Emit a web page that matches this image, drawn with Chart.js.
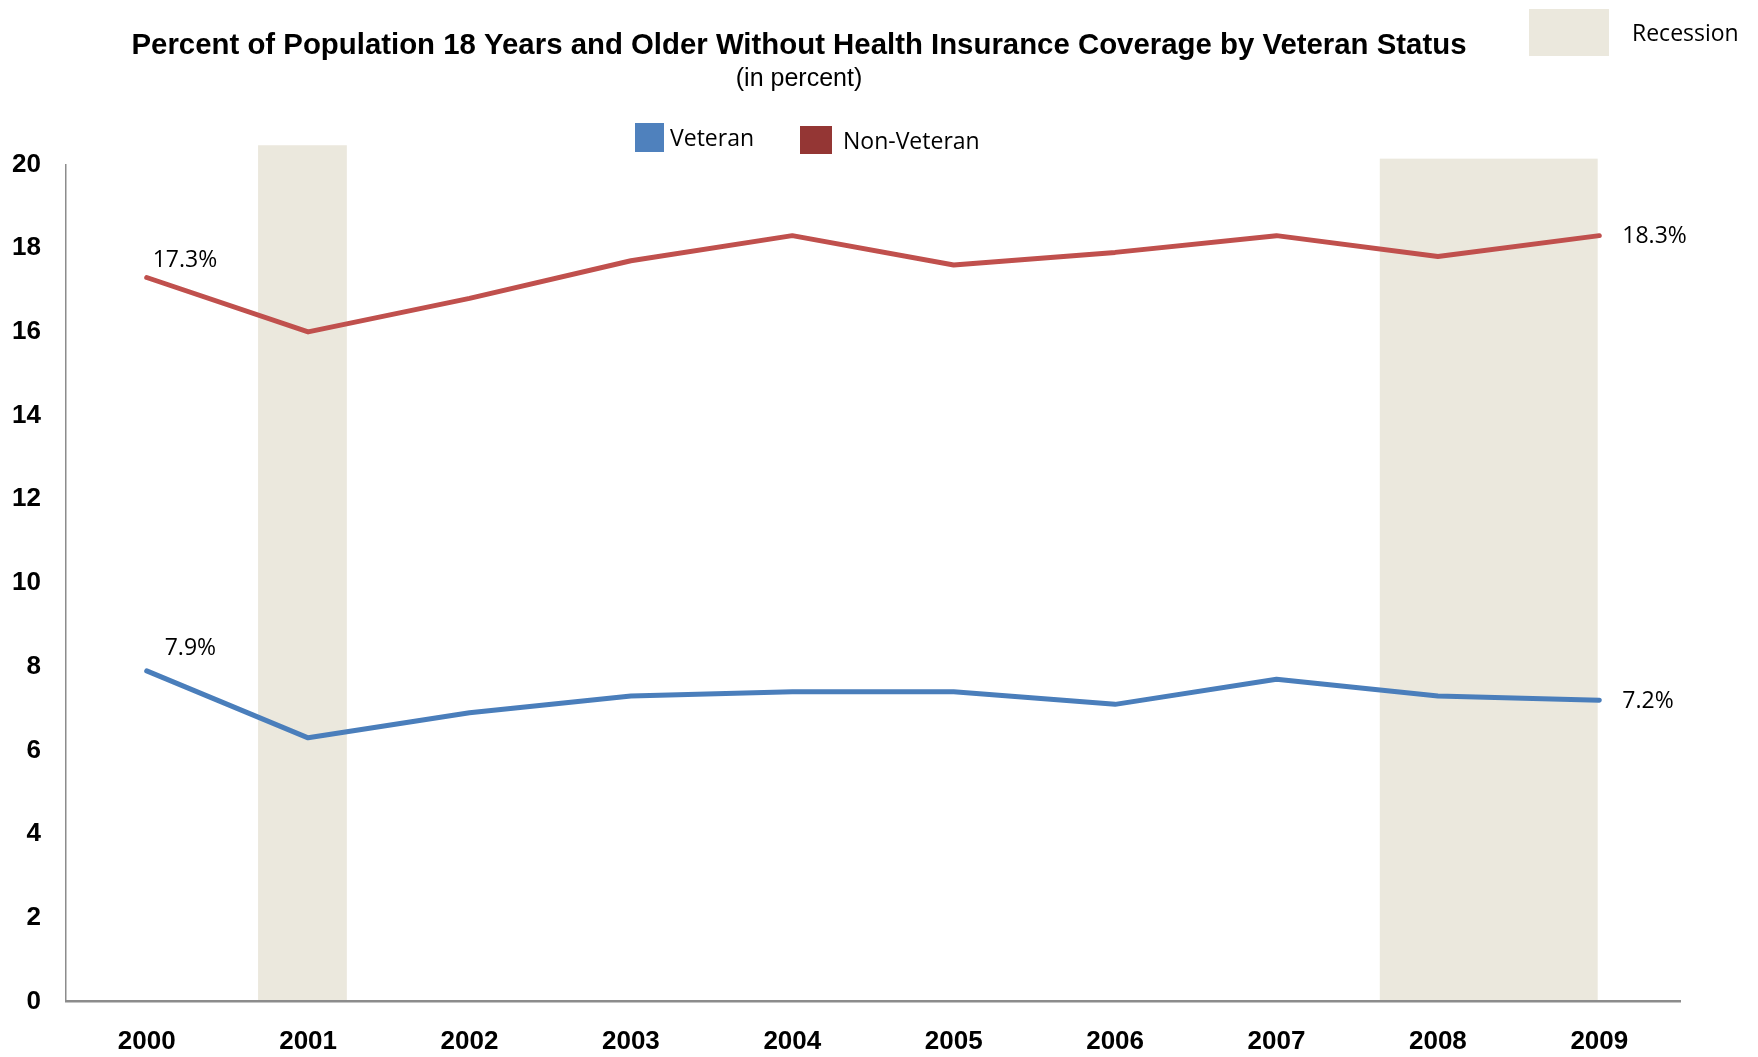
<!DOCTYPE html>
<html lang="en">
<head>
<meta charset="utf-8" />
<title>Health Insurance Coverage by Veteran Status</title>
<script src="https://cdn.jsdelivr.net/npm/chart.js@4.4.0/dist/chart.umd.min.js"></script>
<style>
	html, body { margin: 0; padding: 0; background: #fff; }
	#wrap { width: 1758px; height: 1057px; }
</style>
</head>
<body>
<div id="wrap"><canvas id="chart1" width="1758" height="1057"></canvas></div>
<script>
var years = ["2000", "2001", "2002", "2003", "2004", "2005", "2006", "2007", "2008", "2009"];
var veteran = [7.9, 6.3, 6.9, 7.3, 7.4, 7.4, 7.1, 7.7, 7.3, 7.2];
var nonVeteran = [17.3, 16.0, 16.8, 17.7, 18.3, 17.6, 17.9, 18.3, 17.8, 18.3];
var yTicks = [0, 2, 4, 6, 8, 10, 12, 14, 16, 18, 20];
// recession spans, as fractional positions on the year axis
var recessionFrom = [2000.69, 2007.64];
var recessionTo = [2001.24, 2008.99];
var recessionTop = [20.46, 20.14];

var titleText = "Percent of Population 18 Years and Older Without Health Insurance Coverage by Veteran Status";
var subtitleText = "(in percent)";
var seriesNames = ["Veteran", "Non-Veteran"];

var bandColor = "#ebe8dd";
var calibri = "'Open Sans', 'DejaVu Sans', sans-serif";
var arial = "'Liberation Sans', Arial, sans-serif";

var bandsPlugin = {
	id: "bands",
	beforeDraw: function(chart){
		var ctx = chart.ctx, x = chart.scales.x, y = chart.scales.y;
		ctx.save();
		ctx.fillStyle = "#fff";
		ctx.fillRect(0, 0, chart.width, chart.height);
		ctx.fillStyle = bandColor;
		for(var i = 0; i < recessionFrom.length; i++){
			var x0 = x.getPixelForValue(recessionFrom[i] - 2000);
			var x1 = x.getPixelForValue(recessionTo[i] - 2000);
			var y0 = y.getPixelForValue(recessionTop[i]);
			var y1 = y.getPixelForValue(0);
			ctx.fillRect(x0, y0, x1 - x0, y1 - y0);
		}
		ctx.restore();
	}
};

var textPlugin = {
	id: "texts",
	afterDraw: function(chart){
		var ctx = chart.ctx;
		ctx.save();
		ctx.fillStyle = "#000";
		ctx.textBaseline = "middle";

		// title and subtitle
		ctx.textAlign = "center";
		ctx.font = "bold 29.4px " + arial;
		ctx.fillText(titleText, 799, 46, 1335);
		ctx.font = "25px " + arial;
		ctx.fillText(subtitleText, 799, 79);

		// series legend
		ctx.textAlign = "left";
		ctx.font = "23px " + calibri;
		ctx.fillStyle = "#4f81bd";
		ctx.fillRect(635, 123, 29, 29);
		ctx.fillStyle = "#943634";
		ctx.fillRect(800, 126, 32, 28);
		ctx.fillStyle = "#000";
		ctx.fillText(seriesNames[0], 670, 139);
		ctx.fillText(seriesNames[1], 843, 142);

		// recession legend
		ctx.fillStyle = bandColor;
		ctx.fillRect(1529, 9, 80, 47);
		ctx.fillStyle = "#000";
		ctx.fillText("Recession", 1632, 34);

		// end point labels
		var metas = [chart.getDatasetMeta(0), chart.getDatasetMeta(1)];
		var series = [veteran, nonVeteran];
		var firstOff = [[18, -22], [6, -17]];
		for(var s = 0; s < 2; s++){
			var pts = metas[s].data, n = pts.length - 1;
			ctx.fillText(series[s][0].toFixed(1) + "%", pts[0].x + firstOff[s][0], pts[0].y + firstOff[s][1]);
			ctx.fillText(series[s][n].toFixed(1) + "%", pts[n].x + 23, pts[n].y + 1);
		}
		ctx.restore();
	}
};

var chart1 = new Chart(document.getElementById("chart1"), {
	type: "line",
	data: {
		labels: years,
		datasets: [
			{label: seriesNames[0], data: veteran, borderColor: "#4a7ebb", borderWidth: 5,
				pointRadius: 0, tension: 0, borderCapStyle: "round", borderJoinStyle: "round"},
			{label: seriesNames[1], data: nonVeteran, borderColor: "#c0504d", borderWidth: 5,
				pointRadius: 0, tension: 0, borderCapStyle: "round", borderJoinStyle: "round"}
		]
	},
	options: {
		responsive: false,
		animation: false,
		devicePixelRatio: 1,
		layout: {padding: {top: 164.5, right: 78, left: 1, bottom: 0}},
		plugins: {legend: {display: false}, title: {display: false}, tooltip: {enabled: false}},
		scales: {
			x: {
				type: "category",
				offset: true,
				grid: {display: false, drawTicks: false},
				border: {display: true, color: "#8c8c8c", width: 2.5},
				ticks: {color: "#000", padding: 25, font: {family: arial, size: 26, weight: "bold"}},
				afterFit: function(scale){ scale.height = 55.5; }
			},
			y: {
				min: 0,
				max: 20,
				afterBuildTicks: function(scale){
					scale.ticks = yTicks.map(function(v){ return {value: v}; });
				},
				grid: {display: false, drawTicks: false},
				border: {display: true, color: "#8c8c8c", width: 1.5},
				ticks: {color: "#000", padding: 25, font: {family: arial, size: 26, weight: "bold"}},
				afterFit: function(scale){ scale.width = 65; }
			}
		}
	},
	plugins: [bandsPlugin, textPlugin]
});
</script>
</body>
</html>
